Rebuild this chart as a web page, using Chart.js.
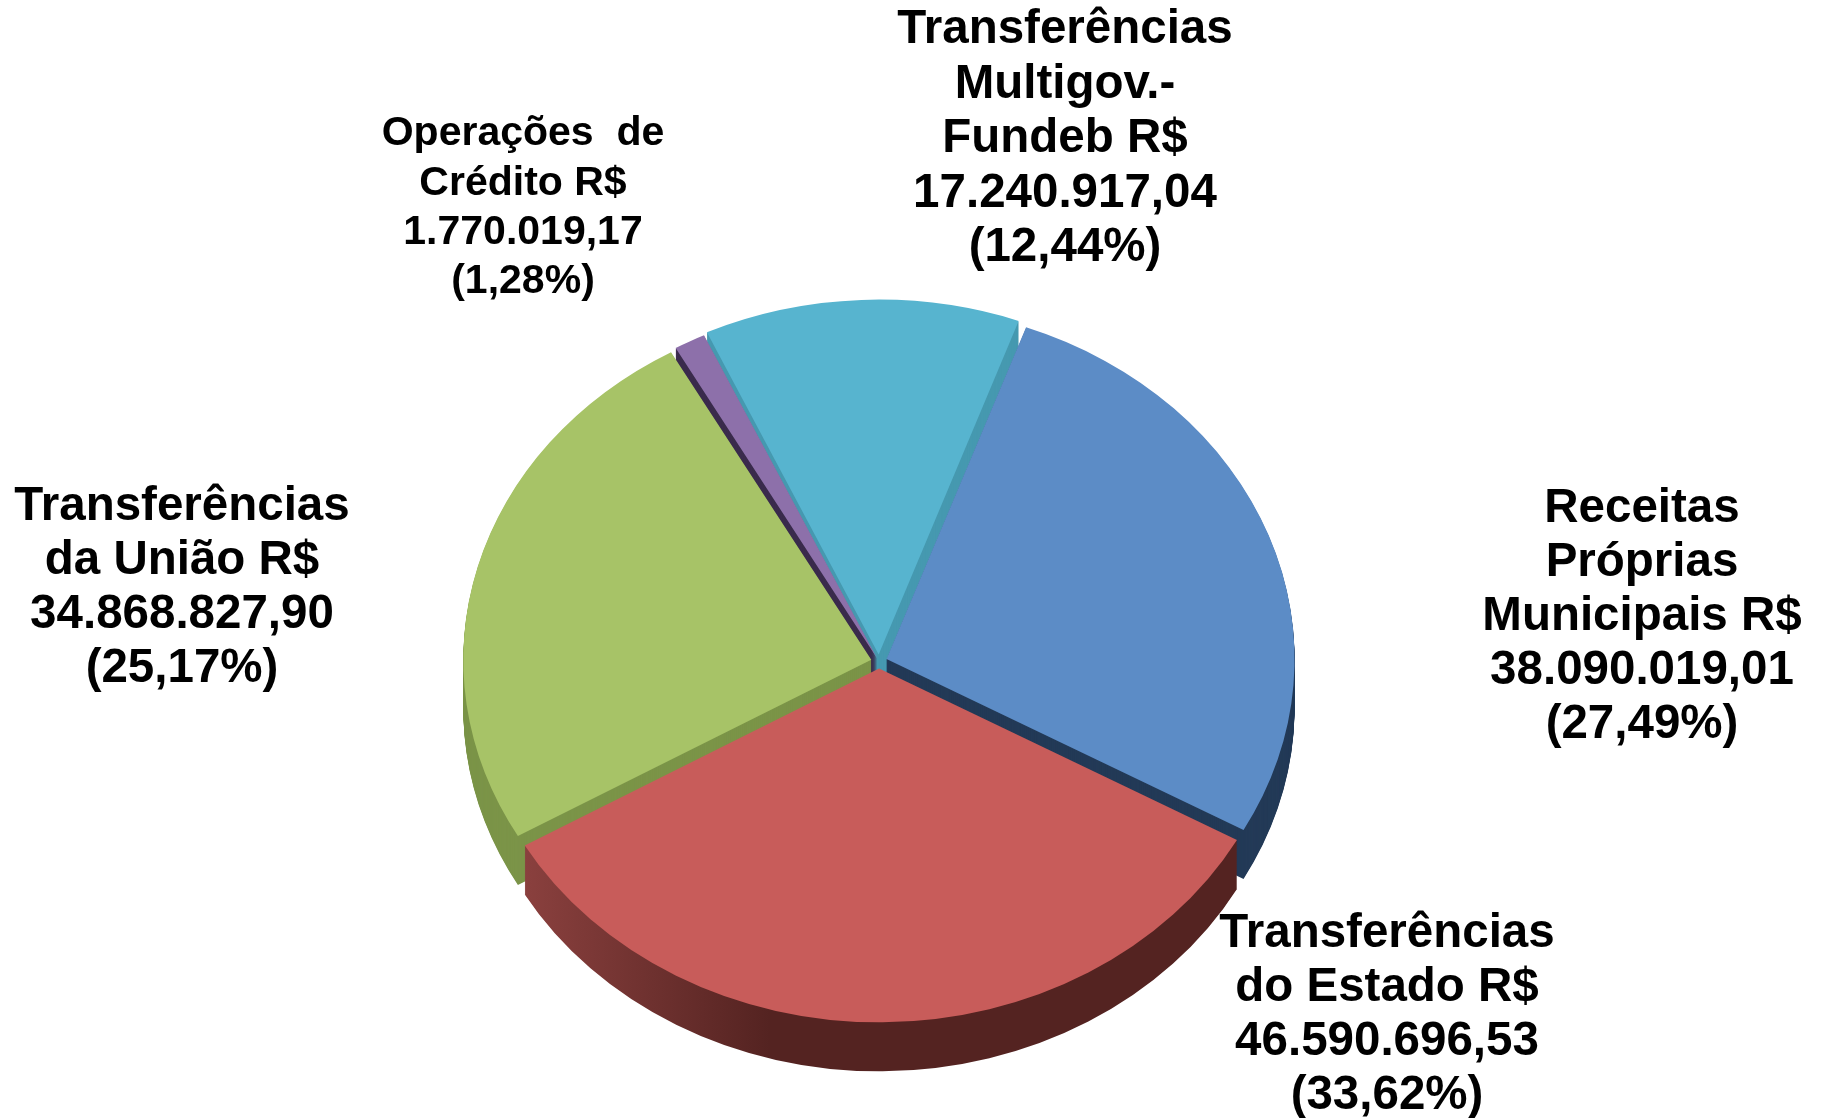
<!DOCTYPE html>
<html>
<head>
<meta charset="utf-8">
<title>Receitas</title>
<script src="https://cdn.jsdelivr.net/npm/chart.js@4/dist/chart.umd.min.js"></script>
<style>
  html, body { margin: 0; background: #fff; }
  canvas { display: block; }
</style>
</head>
<body>
<canvas id="pie" width="1821" height="1118"></canvas>
<script>
const categories = ['Receitas Próprias Municipais', 'Transferências do Estado', 'Transferências da União', 'Operações de Crédito', 'Transferências Multigov.-Fundeb'];
const values = [38090019.01, 46590696.53, 34868827.90, 1770019.17, 17240917.04];
const faceColors = ['#5c8cc6', '#c85c5a', '#a7c367', '#8d70aa', '#57b4cf'];
const wallColors = ['#233a57', '#542321', '#7b9448', '#3a2b4c', '#4699b0'];
const sliceOffsets = [32, 32, 32, 16, 32];

const labelLines = [
    ['Receitas', 'Próprias', 'Municipais R$', '38.090.019,01', '(27,49%)'],
    ['Transferências', 'do Estado R$', '46.590.696,53', '(33,62%)'],
    ['Transferências', 'da União R$', '34.868.827,90', '(25,17%)'],
    ['Operações  de', 'Crédito R$', '1.770.019,17', '(1,28%)'],
    ['Transferências', 'Multigov.-', 'Fundeb R$', '17.240.917,04', '(12,44%)']
];
// centre x, first line y, line step, font size
const labelLayout = [
    [1642, 509, 54.1, 47.5],
    [1387, 934, 54.1, 47.5],
    [182, 507, 54.1, 47.5],
    [523, 134, 49.3, 41],
    [1065, 30, 54.6, 47.5]
];

const tilt = 0.865;     // vertical squash of the pie
const depth = 49;       // height of the side wall
const drawOrder = [4, 3, 2, 0, 1];  // back slices first

const pie3d = {
    id: 'pie3d',
    beforeDatasetDraw(chart) {
        const ctx = chart.ctx;
        const arcs = chart.getDatasetMeta(0).data;
        const cx = arcs[0].x, cy = arcs[0].y;

        const place = d => {
            ctx.translate(cx, cy + d);
            ctx.scale(1, tilt);
            ctx.translate(-cx, -cy);
        };

        // red wall gets lighter towards its left end
        const redWall = ctx.createLinearGradient(525, 0, 770, 0);
        redWall.addColorStop(0, '#8a403e');
        redWall.addColorStop(1, wallColors[1]);

        drawOrder.forEach(i => {
            const shade = Object.create(arcs[i]);
            shade.options = Object.assign({}, arcs[i].options, {
                backgroundColor: i === 1 ? redWall : wallColors[i]
            });
            for (let d = depth; d > 0; d--) {
                ctx.save();
                place(d);
                shade.draw(ctx);
                ctx.restore();
            }
            ctx.save();
            place(0);
            arcs[i].draw(ctx);
            ctx.restore();
        });
        return false;
    },
    afterDatasetsDraw(chart) {
        const ctx = chart.ctx;
        ctx.save();
        ctx.fillStyle = '#000';
        ctx.textAlign = 'center';
        ctx.textBaseline = 'middle';
        labelLines.forEach((lines, i) => {
            const [x, y, step, size] = labelLayout[i];
            ctx.font = 'bold ' + size + 'px "Liberation Sans"';
            lines.forEach((line, n) => ctx.fillText(line, x, y + n * step));
        });
        ctx.restore();
    }
};

new Chart(document.getElementById('pie'), {
    type: 'pie',
    data: {
        labels: categories,
        datasets: [{
            data: values,
            backgroundColor: faceColors,
            borderWidth: 0,
            offset: sliceOffsets,
            clip: false
        }]
    },
    options: {
        responsive: false,
        animation: false,
        radius: 408,
        rotation: 20,
        layout: { padding: { top: 205, right: 63 } },
        plugins: {
            legend: { display: false },
            tooltip: { enabled: false }
        }
    },
    plugins: [pie3d]
});
</script>
</body>
</html>
